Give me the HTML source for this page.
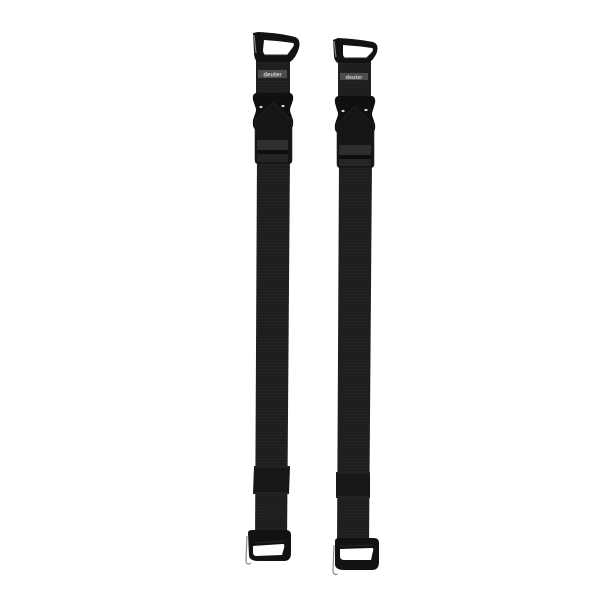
<!DOCTYPE html>
<html>
<head>
<meta charset="utf-8">
<style>
  html,body{margin:0;padding:0;background:#ffffff;}
  body{width:608px;height:608px;overflow:hidden;}
  svg{display:block;}
</style>
</head>
<body>
<svg width="608" height="608" viewBox="0 0 608 608" xmlns="http://www.w3.org/2000/svg">
  <defs>
    <pattern id="weave" width="3" height="3" patternUnits="userSpaceOnUse">
      <rect width="3" height="3" fill="#1d1d1d"/>
      <rect width="3" height="1" fill="#232323"/>
      <rect width="1" height="3" fill="#202020"/>
    </pattern>
  </defs>
  <rect width="608" height="608" fill="#ffffff"/>

  <!-- ================= LEFT STRAP ================= -->
  <!-- main webbing -->
  <polygon points="257,155 290,155 287,546 255,546" fill="url(#weave)"/>
  <!-- keeper -->
  <polygon points="254,466 290,466 289,494 253,494" fill="#171717"/>
  <line x1="254" y1="467" x2="290" y2="467" stroke="#2c2c2c" stroke-width="1"/>
  <line x1="253" y1="493" x2="289" y2="493" stroke="#2c2c2c" stroke-width="1"/>
  <line x1="256" y1="512" x2="286" y2="512" stroke="#262626" stroke-width="0.6"/>

  <!-- bottom hook -->
  <path d="M248,533 Q248,530 252,530 L286,530 Q291,530 291,535 L291,553 Q291,561 284,561 L258,561 Q250,561 249,556 Z" fill="#121212"/>
  <path d="M253,546 L283,544 Q285,544 284,548 L282,555 L256,556 Q253,556 253,552 Z" fill="#ffffff"/>
  <path d="M255,543 L285,541" stroke="#262626" stroke-width="1"/>
  <path d="M247,536 L246,560 Q246,566 251,563" stroke="#8a8a8a" stroke-width="1.2" fill="none"/>

  <!-- upper webbing -->
  <rect x="256" y="57" width="34" height="40" fill="url(#weave)"/>
  <!-- top hook -->
  <path d="M253,33 L258,32 Q280,33 295,37 Q301,39 299,48 Q296,58 290,62 L258,62 Q254,60 254,52 Z" fill="#121212"/>
  <path d="M264,40 Q280,41 293,43 Q295,44 293,47 L287,55 L266,55 Q263,54 263,50 Z" fill="#ffffff"/>
  <path d="M264,55 L288,55" stroke="#2a2a2a" stroke-width="1"/>
  <path d="M254,35 L256,53" stroke="#8a8a8a" stroke-width="1.1" fill="none"/>
  <!-- label -->
  <rect x="258" y="70" width="29" height="8" fill="#4d4d4d"/>
  <text x="272.5" y="76.3" font-family="'Liberation Sans', sans-serif" font-size="6" font-weight="bold" fill="#d0d0d0" text-anchor="middle">deuter</text>
  <line x1="258" y1="81" x2="287" y2="81" stroke="#333" stroke-width="0.6" stroke-dasharray="1,1"/>

  <!-- buckle female -->
  <path d="M256,93 L290,93 Q294,94 293,100 L291,106 Q289,110 291,114 L293,120 Q294,128 290,130 L256,130 Q252,128 253,120 L255,114 Q257,110 255,106 L253,100 Q252,94 256,93 Z" fill="#101010"/>
  <ellipse cx="261" cy="107" rx="1.6" ry="1.1" fill="#d8d8d8"/>
  <ellipse cx="283" cy="106" rx="1.6" ry="1.1" fill="#d8d8d8"/>
  <!-- buckle male -->
  <path d="M273,102 L288,117 L292,119 L292,160 Q292,164 288,164 L259,164 Q255,164 255,160 L255,119 L258,117 Z" fill="#151515" stroke="#262626" stroke-width="0.6"/>
  <rect x="257" y="140" width="31" height="10" fill="#2e2e2e"/>
  <rect x="257" y="150" width="31" height="4" fill="#0e0e0e"/>
  <rect x="257" y="154" width="31" height="8" fill="#252525"/>

  <!-- ================= RIGHT STRAP ================= -->
  <!-- main webbing -->
  <polygon points="339,160 372,160 369,546 337,546" fill="url(#weave)"/>
  <!-- keeper -->
  <polygon points="336,472 370,472 370,498 336,498" fill="#171717"/>
  <line x1="336" y1="473" x2="370" y2="473" stroke="#2c2c2c" stroke-width="1"/>
  <line x1="336" y1="497" x2="370" y2="497" stroke="#2c2c2c" stroke-width="1"/>
  <line x1="338" y1="511" x2="368" y2="511" stroke="#262626" stroke-width="0.6"/>

  <!-- bottom hook -->
  <path d="M335,541 Q335,538 339,538 L374,538 Q379,538 379,543 L379,562 Q379,570 372,570 L344,570 Q336,570 335,565 Z" fill="#121212"/>
  <path d="M340,549 L372,548 Q374,548 373,551 L371,560 L344,560 Q340,560 340,556 Z" fill="#ffffff"/>
  <path d="M339,546 L373,545" stroke="#262626" stroke-width="1"/>
  <path d="M334,545 L333,570 Q333,576 338,574" stroke="#8a8a8a" stroke-width="1.2" fill="none"/>

  <!-- upper webbing -->
  <rect x="338" y="59" width="33" height="40" fill="url(#weave)"/>
  <!-- top hook -->
  <path d="M333,40 L338,38 Q358,39 373,42 Q379,44 377,52 Q374,60 368,63 L338,63 Q334,61 334,55 Z" fill="#121212"/>
  <path d="M343,45 Q358,46 372,48 Q374,49 372,52 L366,58 L346,58 Q343,57 343,54 Z" fill="#ffffff"/>
  <path d="M344,58 L367,58" stroke="#2a2a2a" stroke-width="1"/>
  <path d="M334,41 L336,57" stroke="#8a8a8a" stroke-width="1.1" fill="none"/>
  <!-- label -->
  <rect x="340" y="73" width="28" height="7" fill="#4d4d4d"/>
  <text x="354" y="78.8" font-family="'Liberation Sans', sans-serif" font-size="5.5" font-weight="bold" fill="#d0d0d0" text-anchor="middle">deuter</text>
  <line x1="340" y1="83" x2="368" y2="83" stroke="#333" stroke-width="0.6" stroke-dasharray="1,1"/>

  <!-- buckle female -->
  <path d="M338,96 L372,96 Q376,97 375,103 L373,110 Q371,114 373,118 L375,124 Q376,132 372,133 L338,133 Q334,132 335,124 L337,118 Q339,114 337,110 L335,103 Q334,97 338,96 Z" fill="#101010"/>
  <ellipse cx="343" cy="111" rx="1.6" ry="1.1" fill="#d8d8d8"/>
  <ellipse cx="366" cy="110" rx="1.6" ry="1.1" fill="#d8d8d8"/>
  <!-- buckle male -->
  <path d="M355,106 L370,121 L374,123 L374,164 Q374,168 370,168 L341,168 Q337,168 337,164 L337,123 L340,121 Z" fill="#151515" stroke="#262626" stroke-width="0.6"/>
  <rect x="339" y="145" width="32" height="10" fill="#2e2e2e"/>
  <rect x="339" y="155" width="32" height="4" fill="#0e0e0e"/>
  <rect x="339" y="159" width="32" height="7" fill="#252525"/>
</svg>
</body>
</html>
